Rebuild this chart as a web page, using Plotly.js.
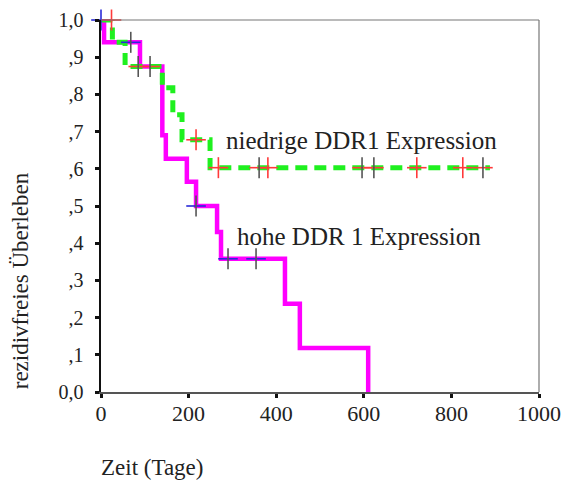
<!DOCTYPE html>
<html>
<head>
<meta charset="utf-8">
<script src="https://cdn.plot.ly/plotly-3.0.1.min.js"></script>
<style>
  html, body { margin: 0; padding: 0; background: #fff; }
  #chart { width: 561px; height: 493px; }
</style>
</head>
<body>
<div id="chart"></div>
<script>
// Kaplan-Meier steps: time of each step (days) and survival after it
const highTimes = [0, 7, 89, 140, 148, 196, 217, 265, 274, 420, 454, 610];
const highSurv  = [1.0, 0.94, 0.875, 0.69, 0.627, 0.565, 0.50, 0.43, 0.358, 0.237, 0.118, 0.0];

const lowTimes = [0, 26, 55, 140, 164, 185, 249, 888];
const lowSurv  = [1.0, 0.94, 0.875, 0.818, 0.745, 0.678, 0.603, 0.603];

// censored observations
const highCensTimes = [0, 68, 217, 290, 354];
const highCensSurv  = [1.0, 0.94, 0.50, 0.358, 0.358];
const highCensTone  = ['b', 'd', 'd', 'd', 'd'];

const lowCensTimes = [24, 85, 112, 217, 268, 361, 381, 596, 623, 721, 826, 872];
const lowCensSurv  = [1.0, 0.875, 0.875, 0.678, 0.603, 0.603, 0.603, 0.603, 0.603, 0.603, 0.603, 0.603];
const lowCensTone  = ['r', 'd', 'd', 'r', 'r', 'd', 'r', 'd', 'd', 'r', 'r', 'd'];

const yTickVals = [0, 0.1, 0.2, 0.3, 0.4, 0.5, 0.6, 0.7, 0.8, 0.9, 1.0];
const yTickText = ['0,0', ',1', ',2', ',3', ',4', ',5', ',6', ',7', ',8', ',9', '1,0'];
const xTickVals = [0, 200, 400, 600, 800, 1000];

const labelLow  = 'niedrige DDR1 Expression';
const labelHigh = 'hohe DDR 1 Expression';
const xTitle = 'Zeit (Tage)';
const yTitle = 'rezidivfreies Überleben';

const tones = { r: '#ff3a3a', d: '#555555', b: '#2a2ad8' };
const serif = 'Liberation Serif';

function censorTraces(times, surv, toneKeys, horizColor) {
  return [
    {
      x: times, y: surv, type: 'scatter', mode: 'markers', cliponaxis: false,
      hoverinfo: 'skip', showlegend: false,
      marker: { symbol: 'line-ew', size: 14, line: { width: 1.6, color: horizColor } }
    },
    {
      x: times, y: surv, type: 'scatter', mode: 'markers', cliponaxis: false,
      hoverinfo: 'skip', showlegend: false,
      marker: { symbol: 'line-ns', size: 15, line: { width: 1.6, color: toneKeys.map(k => tones[k]) } }
    }
  ];
}

const traces = [
  {
    x: highTimes, y: highSurv, type: 'scatter', mode: 'lines', cliponaxis: false,
    line: { shape: 'hv', color: '#ff00ff', width: 4.5 }, showlegend: false
  },
  {
    x: lowTimes, y: lowSurv, type: 'scatter', mode: 'lines', cliponaxis: false,
    line: { shape: 'hv', color: '#1ff01f', width: 5, dash: '12px,7px' }, showlegend: false
  },
  ...censorTraces(highCensTimes, highCensSurv, highCensTone, tones.b),
  ...censorTraces(lowCensTimes, lowCensSurv, lowCensTone, tones.r)
];

const layout = {
  width: 561, height: 493,
  margin: { l: 101, r: 22, t: 20, b: 101 },
  paper_bgcolor: '#fff', plot_bgcolor: '#fff',
  font: { family: serif, color: '#222' },
  showlegend: false,
  xaxis: {
    range: [0, 1000], tickvals: xTickVals, ticktext: xTickVals.map(String),
    showgrid: false, zeroline: false,
    showline: true, linecolor: '#555', linewidth: 2,
    ticks: 'outside', ticklen: 4, tickwidth: 3, tickcolor: '#111',
    tickfont: { family: serif, size: 22, color: '#222' },
    ticklabeloverflow: 'allow',
    ticklabelstandoff: -3,
    fixedrange: true
  },
  yaxis: {
    range: [0, 1], tickvals: yTickVals, ticktext: yTickText,
    showgrid: false, zeroline: false,
    showline: true, linecolor: '#111', linewidth: 1.6,
    ticks: 'outside', ticklen: 4, tickwidth: 3, tickcolor: '#111',
    tickfont: { family: serif, size: 20, color: '#222' },
    ticklabelstandoff: 8,
    fixedrange: true
  },
  shapes: [
    { type: 'line', xref: 'paper', yref: 'paper', x0: 0, x1: 1, y0: 1, y1: 1, line: { color: '#777', width: 1.2 } },
    { type: 'line', xref: 'paper', yref: 'paper', x0: 1, x1: 1, y0: 0, y1: 1, line: { color: '#777', width: 1.2 } }
  ],
  annotations: [
    { x: 281, y: 0.675, xref: 'x', yref: 'y', text: labelLow, showarrow: false,
      xanchor: 'left', yanchor: 'middle', font: { family: serif, size: 25, color: '#222' } },
    { x: 306, y: 0.417, xref: 'x', yref: 'y', text: labelHigh, showarrow: false,
      xanchor: 'left', yanchor: 'middle', font: { family: serif, size: 25, color: '#222' } },
    { x: -0.004, y: -0.204, xref: 'paper', yref: 'paper', text: xTitle, showarrow: false,
      xanchor: 'left', yanchor: 'middle', font: { family: serif, size: 23, color: '#222' } },
    { x: -0.183, y: 0.3, xref: 'paper', yref: 'paper', text: yTitle, showarrow: false,
      textangle: -90, xanchor: 'center', yanchor: 'middle', font: { family: serif, size: 23, color: '#222' } }
  ]
};

Plotly.newPlot('chart', traces, layout, { displayModeBar: false, staticPlot: true });
</script>
</body>
</html>
